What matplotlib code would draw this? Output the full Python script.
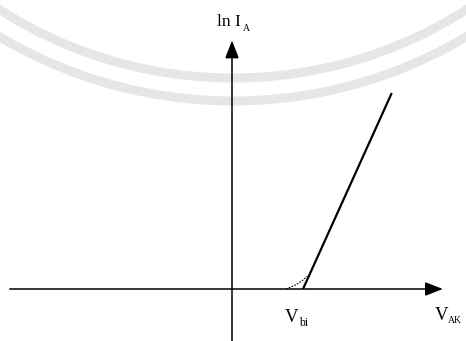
import matplotlib
matplotlib.use("Agg")
import matplotlib.pyplot as plt
from matplotlib.patches import Arc

# Diode-like characteristic: ln(I_A) versus V_AK with built-in voltage V_bi
v_bi = 1.0
line_v = [1.0, 2.25]
line_lni = [0.0, 2.76]
knee_v = [0.76, 0.88, 0.98, 1.06]
knee_lni = [0.0, 0.05, 0.11, 0.18]

W, H, DPI = 466, 341, 100
PX = 71.0  # pixels per data unit
fig = plt.figure(figsize=(W / DPI, H / DPI), dpi=DPI)
ax = fig.add_axes([0, 0, 1, 1])
ax.set_xlim(-232 / PX, (W - 232) / PX)
ax.set_ylim(-(H - 289) / PX, 289 / PX)
ax.axis("off")

# faint seal arcs in the background
for r in (433 / PX, 456 / PX):
    ax.add_patch(Arc((1 / PX, 644 / PX), 2 * r, 2 * r, theta1=180, theta2=360,
                     color="#e6e6e6", lw=6.5, zorder=0))

# coordinate axes with arrow heads
arrow = dict(arrowstyle="-|>,head_length=0.9,head_width=0.35", color="black",
             lw=1.1, shrinkA=0, shrinkB=0, mutation_scale=12)
ax.annotate("", xy=(2.97, 0.0), xytext=(-3.13, 0.0), arrowprops=arrow)
ax.annotate("", xy=(0.0, 3.5), xytext=(0.0, -0.75), arrowprops=arrow)

# characteristic
ax.plot(line_v, line_lni, color="black", lw=1.6, solid_capstyle="butt")
ax.plot(knee_v, knee_lni, color="black", lw=0.8, ls=(0, (1.5, 1.2)))

serif = ["Liberation Serif"]


def label(x, y, main, sub, dx, dy, size, subsize):
    ax.text(x, y, main, ha="left", va="baseline", fontsize=size, family=serif)
    ax.text(x + dx, y + dy, sub, ha="left", va="baseline", fontsize=subsize,
            family=serif)


label(-0.211, 3.704, "ln I", "A", 0.36, -0.07, 12.5, 7)
label(0.746, -0.465, "V", "bi", 0.2, -0.06, 13.5, 8.5)
label(2.85, -0.437, "V", "AK", 0.185, -0.045, 13.5, 7)

fig.savefig("out.png", dpi=DPI, facecolor="white")
